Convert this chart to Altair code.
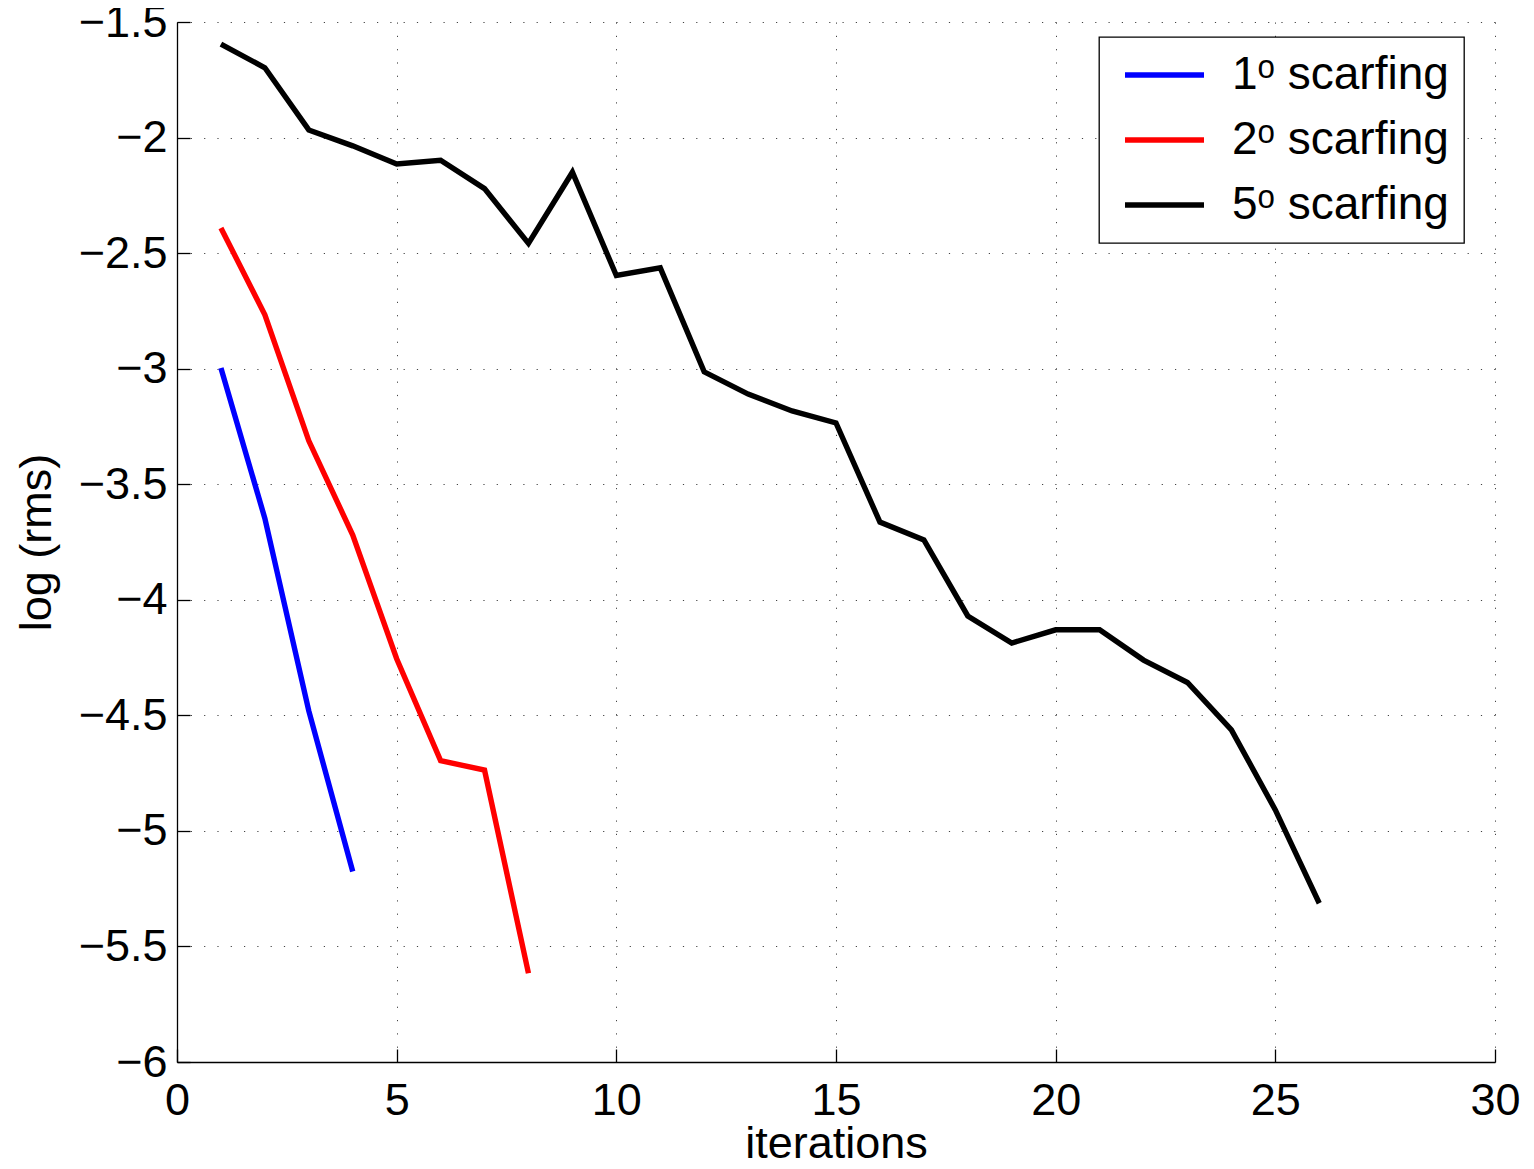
import altair as alt
import pandas as pd

# ---- data ----
iters_1 = [1, 2, 3, 4]
rms_1 = [-2.997, -3.648, -4.481, -5.176]

iters_2 = [1, 2, 3, 4, 5, 6, 7, 8]
rms_2 = [-2.391, -2.767, -3.312, -3.720, -4.255, -4.696, -4.737, -5.616]

iters_5 = list(range(1, 27))
rms_5 = [-1.596, -1.698, -1.967, -2.036, -2.114, -2.098, -2.221, -2.458,
         -2.150, -2.597, -2.564, -3.014, -3.110, -3.183, -3.235, -3.664,
         -3.741, -4.070, -4.187, -4.130, -4.130, -4.261, -4.358, -4.563,
         -4.909, -5.313]

series_names = ["1\u1d52 scarfing", "2\u1d52 scarfing", "5\u1d52 scarfing"]
series_colors = ["#0000ff", "#ff0000", "#000000"]

x_ticks = [0, 5, 10, 15, 20, 25, 30]
y_ticks = [-6, -5.5, -5, -4.5, -4, -3.5, -3, -2.5, -2, -1.5]

rows = []
for name, xs, ys in zip(series_names, [iters_1, iters_2, iters_5], [rms_1, rms_2, rms_5]):
    for xv, yv in zip(xs, ys):
        rows.append({"series": name, "iteration": xv, "rms": yv})
df = pd.DataFrame(rows)

W, H = 1318, 1040
FONT = "Liberation Sans"
FS = 45
LW = 5.4

xscale = alt.Scale(domain=[0, 30], nice=False, zero=False)
yscale = alt.Scale(domain=[-6, -1.5], nice=False, zero=False)

lines = alt.Chart(df).mark_line(strokeWidth=LW, strokeJoin="miter").encode(
    x=alt.X("iteration:Q", scale=xscale,
            axis=alt.Axis(values=x_ticks, title="iterations", orient="bottom",
                          grid=True, gridDash=[1.2, 12.1], gridColor="#444444", gridWidth=1,
                          ticks=False, tickSize=0, domain=True, domainColor="#000000",
                          domainWidth=1.3, labelFontSize=FS, labelFont=FONT,
                          labelColor="#000000", labelPadding=16, format="~g",
                          titleFontSize=FS, titleFont=FONT, titleFontWeight="normal",
                          titleColor="#000000", titlePadding=-2, labelFlush=False)),
    y=alt.Y("rms:Q", scale=yscale,
            axis=alt.Axis(values=y_ticks, title="log (rms)", orient="left",
                          grid=True, gridDash=[1.2, 12.1], gridColor="#444444", gridWidth=1,
                          ticks=False, tickSize=0, domain=True, domainColor="#000000",
                          domainWidth=1.3, labelFontSize=FS, labelFont=FONT,
                          labelColor="#000000", labelPadding=10, format="~g",
                          titleFontSize=FS, titleFont=FONT, titleFontWeight="normal",
                          titleColor="#000000", titlePadding=19, labelFlush=False)),
    color=alt.Color("series:N", scale=alt.Scale(domain=series_names, range=series_colors),
                    legend=alt.Legend(title=None, orient="none", legendX=922, legendY=15,
                                      symbolType="stroke", symbolSize=6241,
                                      symbolStrokeWidth=LW, symbolOffset=8,
                                      labelFontSize=46, labelLimit=600,
                                      labelFont=FONT, labelColor="#000000",
                                      labelOffset=25, rowPadding=19, padding=15,
                                      fillColor="#ffffff", strokeColor="#000000",
                                      clipHeight=46)),
    order="iteration:Q",
)

inward_ticks = alt.Chart(df).mark_point(opacity=0).encode(
    x=alt.X("iteration:Q", scale=xscale,
            axis=alt.Axis(values=x_ticks, orient="top", offset=-H, labels=False,
                          domain=False, grid=False, title=None, ticks=True,
                          tickSize=13, tickColor="#000000", tickWidth=1.3)),
    y=alt.Y("rms:Q", scale=yscale,
            axis=alt.Axis(values=y_ticks, orient="right", offset=-W, labels=False,
                          domain=False, grid=False, title=None, ticks=True,
                          tickSize=13, tickColor="#000000", tickWidth=1.3)),
)

chart = alt.layer(lines, inward_ticks).resolve_axis(
    x="independent", y="independent"
).properties(
    width=W, height=H,
    autosize=alt.AutoSizeParams(type="none"),
    padding={"left": 169, "top": 14, "right": 30, "bottom": 98},
).configure_view(stroke=None).configure_legend(strokeWidth=1.3, cornerRadius=0)

chart.save("out.html", embed_options={"renderer": "svg", "actions": False})
